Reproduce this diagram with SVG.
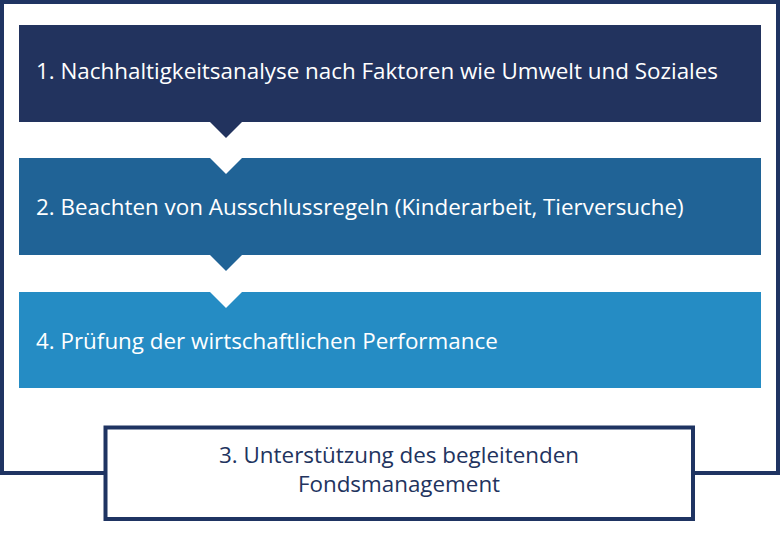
<svg xmlns="http://www.w3.org/2000/svg" width="780" height="560" viewBox="0 0 780 560">
<style>
.t{font-family:"Open Sans","Noto Sans",sans-serif;font-size:22.4px;fill:#ffffff}
.b{font-family:"Open Sans","Noto Sans",sans-serif;font-size:22.4px;fill:#22335e;text-anchor:middle}
</style>
<rect x="0" y="0" width="780" height="560" fill="#ffffff"/>
<g id="frame">
<rect x="2" y="2" width="776" height="471" fill="none" stroke="#1f3462" stroke-width="4"/>
</g>
<g id="step1">
<path d="M19 25 H761 V122 H242 L226 138 L210 122 H19 Z" fill="#22335e"/>
<text class="t" x="36" y="79">1. Nachhaltigkeitsanalyse nach Faktoren wie Umwelt und Soziales</text>
</g>
<g id="step2">
<path d="M19 158 H210 L226 174 L242 158 H761 V255 H242 L226 271 L210 255 H19 Z" fill="#206396"/>
<text class="t" x="36" y="215">2. Beachten von Ausschlussregeln (Kinderarbeit, Tierversuche)</text>
</g>
<g id="step4">
<path d="M19 292 H210 L226 308 L242 292 H761 V388 H19 Z" fill="#258cc4"/>
<text class="t" x="36" y="349">4. Prüfung der wirtschaftlichen Performance</text>
</g>
<g id="step3">
<rect x="105.5" y="427.5" width="587.5" height="91.5" fill="#ffffff" stroke="#1f3462" stroke-width="4"/>
<text class="b" x="399" y="463">3. Unterstützung des begleitenden</text>
<text class="b" x="399" y="492">Fondsmanagement</text>
</g>
<g id="connectors"></g>
</svg>
